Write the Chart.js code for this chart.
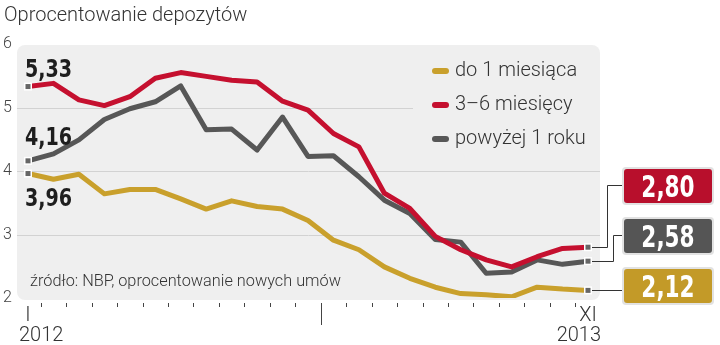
<!DOCTYPE html>
<html>
<head>
<meta charset="utf-8">
<script src="https://cdn.jsdelivr.net/npm/chart.js@4"></script>
<style>
  html, body { margin: 0; padding: 0; background: #fff; }
  #wrap { width: 720px; height: 345px; position: relative; }
</style>
</head>
<body>
<div id="wrap"><canvas id="depozyty" width="720" height="345"></canvas></div>
<script>
// months I.2012 - XI.2013
const months = ['I','II','III','IV','V','VI','VII','VIII','IX','X','XI','XII',
                'I','II','III','IV','V','VI','VII','VIII','IX','X','XI'];
const do1m   = [3.96, 3.87, 3.95, 3.64, 3.71, 3.71, 3.56, 3.40, 3.53, 3.44, 3.40, 3.22,
                2.91, 2.76, 2.49, 2.31, 2.17, 2.07, 2.05, 2.02, 2.17, 2.14, 2.12];
const m3_6   = [5.33, 5.38, 5.12, 5.03, 5.17, 5.46, 5.55, 5.49, 5.43, 5.40, 5.10, 4.96,
                4.59, 4.38, 3.65, 3.41, 2.97, 2.76, 2.60, 2.49, 2.65, 2.78, 2.80];
const pow1r  = [4.16, 4.27, 4.49, 4.81, 4.98, 5.09, 5.34, 4.65, 4.66, 4.33, 4.85, 4.23,
                4.24, 3.91, 3.54, 3.33, 2.92, 2.88, 2.39, 2.41, 2.60, 2.53, 2.58];
const yTicks = [2, 3, 4, 5, 6];
const seriesNames = ['do 1 miesiąca', '3–6 miesięcy', 'powyżej 1 roku'];

const GOLD = '#c9a02c', RED = '#c5102f', GRAY = '#575757';
const boxColors = ['#b80f2c', '#555555', '#c39a28'];
const BOLD = 'bold {s}px "Liberation Sans Narrow", "DejaVu Sans Condensed", "DejaVu Sans", sans-serif';

function fmt(v) { return v.toFixed(2).replace('.', ','); }

// draws text squeezed horizontally (no narrow bold font available)
function narrowText(ctx, txt, px, py, size, sx, align) {
    ctx.save();
    ctx.font = BOLD.replace('{s}', size);
    let w = ctx.measureText(txt).width * sx;
    let left = align == 'center' ? px - w / 2 : px;
    ctx.translate(left, py);
    ctx.scale(sx, 1);
    ctx.textAlign = 'left';
    ctx.fillText(txt, 0, 0);
    ctx.restore();
}

const decor = {
    id: 'decor',
    beforeDatasetsDraw(chart) {
        const ctx = chart.ctx, x = chart.scales.x, y = chart.scales.y;
        ctx.save();
        // plot background
        ctx.fillStyle = '#efefef';
        ctx.beginPath();
        ctx.roundRect(17, 45, 583, 255, 8);
        ctx.fill();
        // grid
        ctx.strokeStyle = '#d2d2d2';
        ctx.lineWidth = 1;
        [3, 4, 5].forEach(function (v) {
            let py = Math.round(y.getPixelForValue(v)) + 0.5;
            ctx.beginPath();
            ctx.moveTo(17, py);
            ctx.lineTo(v == 5 ? 413 : 600, py);
            ctx.stroke();
        });
        // y labels
        ctx.fillStyle = '#444';
        ctx.font = '300 16px Roboto';
        ctx.textBaseline = 'middle';
        ctx.textAlign = 'left';
        yTicks.forEach(function (v) {
            ctx.fillText(String(v), 3, y.getPixelForValue(v));
        });
        // title
        ctx.fillStyle = '#333';
        ctx.font = '300 20px Roboto';
        ctx.textBaseline = 'alphabetic';
        ctx.fillText('Oprocentowanie depozytów', 4, 21);
        // source
        ctx.font = '300 16.3px Roboto';
        ctx.fillStyle = '#333';
        ctx.fillText('źródło: NBP, oprocentowanie nowych umów', 30, 286);
        // legend
        const cols = [GOLD, RED, GRAY];
        ctx.font = '300 20px Roboto';
        seriesNames.forEach(function (n, i) {
            let ly = 71 + i * 34;
            ctx.strokeStyle = cols[i];
            ctx.lineWidth = 6;
            ctx.lineCap = 'round';
            ctx.beginPath();
            ctx.moveTo(435, ly);
            ctx.lineTo(446, ly);
            ctx.stroke();
            ctx.fillStyle = '#333';
            ctx.textBaseline = 'middle';
            ctx.fillText(n, 455, ly);
        });
        // x ticks
        ctx.strokeStyle = '#444';
        ctx.lineWidth = 1;
        ctx.lineCap = 'butt';
        for (let k = 0; k < months.length - 1; k++) {
            let px = Math.round((x.getPixelForValue(k) + x.getPixelForValue(k + 1)) / 2) + 0.5;
            ctx.beginPath();
            ctx.moveTo(px, 303);
            ctx.lineTo(px, k == 11 ? 325 : 307);
            ctx.stroke();
        }
        ctx.fillStyle = '#333';
        ctx.font = '300 20px Roboto';
        ctx.textBaseline = 'alphabetic';
        ctx.textAlign = 'center';
        ctx.fillText(months[0], x.getPixelForValue(0), 321);
        ctx.fillText(months[22], x.getPixelForValue(22), 321);
        ctx.textAlign = 'left';
        ctx.fillText('2012', 19, 341);
        ctx.textAlign = 'right';
        ctx.fillText('2013', 601, 341);
        ctx.restore();
    },
    afterDatasetsDraw(chart) {
        const ctx = chart.ctx, x = chart.scales.x, y = chart.scales.y;
        const sets = [m3_6, pow1r, do1m];
        ctx.save();
        // left labels
        ctx.fillStyle = '#1e1e1e';
        ctx.textBaseline = 'alphabetic';
        narrowText(ctx, fmt(m3_6[0]), 25, 77, 25, 0.85, 'left');
        narrowText(ctx, fmt(pow1r[0]), 25, 145, 25, 0.85, 'left');
        narrowText(ctx, fmt(do1m[0]), 25, 206, 25, 0.85, 'left');
        // connectors and boxes on the right
        const last = months.length - 1;
        const ex = x.getPixelForValue(last);
        const boxY = [168, 218, 268];
        const elbowX = [607, 613, null];
        ctx.strokeStyle = '#333';
        ctx.lineWidth = 1;
        sets.forEach(function (s, i) {
            let ey = Math.round(y.getPixelForValue(s[last])) + 0.5;
            let by = boxY[i] + 17.5;
            ctx.beginPath();
            ctx.moveTo(ex, ey);
            if (elbowX[i]) {
                ctx.lineTo(elbowX[i] + 0.5, ey);
                ctx.lineTo(elbowX[i] + 0.5, by);
            } else {
                by = ey;
            }
            ctx.lineTo(624, by);
            ctx.stroke();
        });
        // markers
        function marker(px, py) {
            ctx.fillStyle = '#fff';
            ctx.fillRect(px - 4, py - 4, 8, 8);
            ctx.fillStyle = '#666';
            ctx.fillRect(px - 2.5, py - 2.5, 5, 5);
        }
        sets.forEach(function (s) {
            marker(x.getPixelForValue(0), y.getPixelForValue(s[0]));
            marker(ex, y.getPixelForValue(s[last]));
        });
        sets.forEach(function (s, i) {
            ctx.fillStyle = '#e2e2e2';
            ctx.beginPath();
            ctx.roundRect(622, boxY[i] - 1, 92, 38, 4);
            ctx.fill();
            ctx.fillStyle = boxColors[i];
            ctx.beginPath();
            ctx.roundRect(624, boxY[i] + 1, 88, 34, 3);
            ctx.fill();
            ctx.fillStyle = '#fff';
            ctx.textBaseline = 'alphabetic';
            narrowText(ctx, fmt(s[last]), 668, boxY[i] + 29, 30, 0.8, 'center');
        });
        ctx.restore();
    }
};

new Chart(document.getElementById('depozyty'), {
    type: 'line',
    data: {
        labels: months,
        datasets: [{
            label: seriesNames[0],
            data: do1m,
            borderColor: GOLD
        }, {
            label: seriesNames[1],
            data: m3_6,
            borderColor: RED
        }, {
            label: seriesNames[2],
            data: pow1r,
            borderColor: GRAY
        }]
    },
    options: {
        responsive: false,
        animation: false,
        devicePixelRatio: 1,
        layout: { padding: { left: 28, right: 132, top: 44, bottom: 47 } },
        elements: {
            line: { borderWidth: 5, tension: 0, borderJoinStyle: 'round', borderCapStyle: 'butt' },
            point: { radius: 0 }
        },
        scales: {
            x: { display: false, offset: false },
            y: { display: false, min: 2, max: 6 }
        },
        plugins: {
            legend: { display: false },
            tooltip: { enabled: false }
        }
    },
    plugins: [decor]
});
</script>
</body>
</html>
